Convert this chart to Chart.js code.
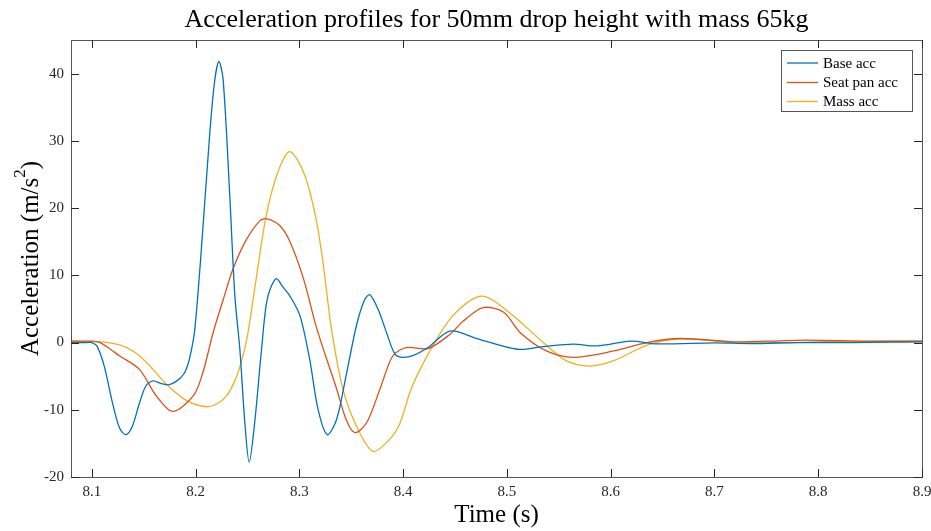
<!DOCTYPE html>
<html>
<head>
<meta charset="utf-8">
<script src="https://cdn.jsdelivr.net/npm/chart.js@4/dist/chart.umd.min.js"></script>
<style>
  html, body { margin: 0; padding: 0; background: #fff; }
  #wrap { width: 931px; height: 531px; }
</style>
</head>
<body>
<div id="wrap"><canvas id="c" width="931" height="531"></canvas></div>
<script>
const titleText = "Acceleration profiles for 50mm drop height with mass 65kg";
const xTitle = "Time (s)";
const seriesLabels = ["Base acc", "Seat pan acc", "Mass acc"];
const seriesColors = ["#0072BD", "#D95319", "#EDB120"];
const xTicks = [8.1, 8.2, 8.3, 8.4, 8.5, 8.6, 8.7, 8.8, 8.9];
const yTicks = [-20, -10, 0, 10, 20, 30, 40];

const baseT = [8.080, 8.095, 8.100, 8.105, 8.112, 8.120, 8.127, 8.133, 8.139, 8.146, 8.152, 8.159, 8.167, 8.174, 8.182, 8.189, 8.194, 8.1993, 8.207, 8.214, 8.2186, 8.2225, 8.2266, 8.233, 8.2379, 8.2427, 8.2475, 8.2517, 8.257, 8.2636, 8.269, 8.2774, 8.2845, 8.291, 8.3006, 8.310, 8.318, 8.327, 8.336, 8.345, 8.355, 8.363, 8.368, 8.376, 8.384, 8.392, 8.399, 8.410, 8.424, 8.445, 8.471, 8.510, 8.535, 8.564, 8.587, 8.619, 8.645, 8.700, 8.735, 8.780, 8.830, 8.870, 8.900];
const baseA = [0, 0, 0, -0.5, -3.5, -9.0, -12.8, -13.7, -12.5, -9.0, -6.5, -5.7, -6.1, -6.3, -5.7, -4.6, -2.5, 2.0, 16.8, 31.7, 39.1, 41.8, 39.1, 21.8, 6.9, -1.0, -11.9, -17.8, -11.9, -1.0, 6.4, 9.5, 8.2, 6.9, 4.0, -2.5, -9.9, -13.7, -11.4, -5.0, 2.5, 6.4, 7.1, 4.9, 1.5, -1.7, -2.2, -1.9, -0.75, 1.7, 0.6, -1.0, -0.6, -0.25, -0.5, 0.2, -0.2, -0.05, -0.15, 0, 0, 0.05, 0.1];

const seatT = [8.080, 8.100, 8.108, 8.118, 8.127, 8.146, 8.162, 8.178, 8.198, 8.207, 8.217, 8.2267, 8.236, 8.249, 8.262, 8.269, 8.281, 8.291, 8.304, 8.317, 8.336, 8.345, 8.3536, 8.365, 8.378, 8.390, 8.403, 8.424, 8.445, 8.458, 8.477, 8.497, 8.5127, 8.538, 8.564, 8.603, 8.635, 8.667, 8.718, 8.750, 8.789, 8.847, 8.900];
const seatA = [0.2, 0.2, 0, -1.0, -2.0, -4.0, -7.9, -10.25, -7.9, -4.5, 1.5, 6.4, 10.9, 15.3, 18.1, 18.4, 17.4, 15.0, 9.5, 2.0, -6.9, -11.4, -13.4, -11.9, -6.8, -2.0, -0.75, -0.9, 1.2, 3.2, 5.2, 4.5, 1.5, -1.25, -2.2, -1.25, 0, 0.6, 0.1, 0.2, 0.35, 0.2, 0.2];

const massT = [8.080, 8.110, 8.127, 8.140, 8.153, 8.172, 8.191, 8.211, 8.222, 8.230, 8.237, 8.243, 8.250, 8.257, 8.268, 8.2797, 8.291, 8.305, 8.316, 8.323, 8.331, 8.342, 8.355, 8.371, 8.387, 8.397, 8.408, 8.425, 8.448, 8.476, 8.506, 8.535, 8.557, 8.580, 8.603, 8.635, 8.664, 8.690, 8.718, 8.770, 8.815, 8.900];
const massA = [0.2, 0.1, -0.35, -1.3, -3.0, -6.2, -8.6, -9.55, -9.0, -7.9, -6.0, -3.5, 1.0, 8.0, 18.8, 25.5, 28.4, 25.0, 18.5, 11.7, 2.0, -6.9, -12.4, -16.2, -14.4, -12.0, -6.8, -1.5, 4.0, 6.9, 4.0, 0, -2.7, -3.5, -2.7, -0.4, 0.5, 0.4, 0, 0, 0.15, 0.2];

const xMin = 8.08, xMax = 8.9, yMin = -20, yMax = 45;
const FONT = "'Liberation Serif', 'Times New Roman', serif";
const AXC = "#262626";

function pts(t, a) { return t.map((v, i) => ({ x: v, y: a[i] })); }

const seriesT = [baseT, seatT, massT];
const seriesA = [baseA, seatA, massA];

const decor = {
  id: 'decor',
  afterDraw(chart) {
    const ctx = chart.ctx;
    const ca = chart.chartArea;
    const xs = chart.scales.x, ys = chart.scales.y;
    ctx.save();
    ctx.strokeStyle = "#555";
    ctx.lineWidth = 1;
    ctx.strokeRect(Math.round(ca.left) + 0.5, Math.round(ca.top) + 0.5, Math.round(ca.right - ca.left), Math.round(ca.bottom - ca.top));
    ctx.strokeStyle = AXC;
    ctx.beginPath();
    const tl = 8;
    xTicks.forEach(v => {
      const px = Math.round(xs.getPixelForValue(v)) + 0.5;
      ctx.moveTo(px, ca.bottom); ctx.lineTo(px, ca.bottom - tl);
      ctx.moveTo(px, ca.top); ctx.lineTo(px, ca.top + tl);
    });
    yTicks.forEach(v => {
      const py = Math.round(ys.getPixelForValue(v)) + 0.5;
      ctx.moveTo(ca.left, py); ctx.lineTo(ca.left + tl, py);
      ctx.moveTo(ca.right, py); ctx.lineTo(ca.right - tl, py);
    });
    ctx.stroke();
    ctx.fillStyle = "#000";
    ctx.textAlign = "center";
    ctx.textBaseline = "alphabetic";
    ctx.font = "26px " + FONT;
    const cx = (ca.left + ca.right) / 2;
    ctx.fillText(titleText, cx, 27);
    ctx.font = "25px " + FONT;
    ctx.fillText(xTitle, cx, 522);
    ctx.save();
    ctx.translate(38, (ca.top + ca.bottom) / 2);
    ctx.rotate(-Math.PI / 2);
    const main = "Acceleration (m/s";
    ctx.font = "25px " + FONT;
    const w1 = ctx.measureText(main).width;
    ctx.font = "17px " + FONT;
    const w2 = ctx.measureText("2").width;
    ctx.font = "25px " + FONT;
    const w3 = ctx.measureText(")").width;
    const total = w1 + w2 + w3;
    let x0 = -total / 2;
    ctx.textAlign = "left";
    ctx.fillText(main, x0, 0);
    ctx.font = "17px " + FONT;
    ctx.fillText("2", x0 + w1, -13);
    ctx.font = "25px " + FONT;
    ctx.fillText(")", x0 + w1 + w2, 0);
    ctx.restore();
    const lx = 781, ly = 50, lw = 131, lh = 61;
    ctx.fillStyle = "#fff";
    ctx.fillRect(lx, ly, lw, lh);
    ctx.strokeStyle = "#555";
    ctx.strokeRect(lx + 0.5, ly + 0.5, lw, lh);
    ctx.font = "15px " + FONT;
    ctx.textAlign = "left";
    ctx.textBaseline = "middle";
    const rows = [63, 82.5, 101.5];
    seriesLabels.forEach((lab, i) => {
      ctx.strokeStyle = seriesColors[i];
      ctx.lineWidth = 1.3;
      ctx.beginPath();
      ctx.moveTo(787, rows[i]); ctx.lineTo(818, rows[i]);
      ctx.stroke();
      ctx.fillStyle = "#000";
      ctx.fillText(lab, 823, rows[i] + 1);
    });
    ctx.restore();
  }
};

new Chart(document.getElementById('c'), {
  type: 'line',
  data: {
    datasets: seriesLabels.map((lab, i) => ({
      label: lab,
      data: pts(seriesT[i], seriesA[i]),
      borderColor: seriesColors[i],
      backgroundColor: seriesColors[i],
      borderWidth: 1.3,
      pointRadius: 0,
      fill: false,
      tension: 0.3
    }))
  },
  options: {
    responsive: false,
    animation: false,
    devicePixelRatio: 1,
    layout: { padding: { top: 40, right: 9, left: 0, bottom: 0 } },
    plugins: { legend: { display: false }, title: { display: false }, tooltip: { enabled: false } },
    scales: {
      x: {
        type: 'linear', min: xMin, max: xMax,
        afterBuildTicks: s => { s.ticks = xTicks.map(v => ({ value: v })); },
        afterFit: s => { s.height = 54; s.paddingRight = 0; s.paddingLeft = 0; },
        grid: { display: false, drawTicks: false },
        border: { display: false },
        ticks: { padding: 6, color: AXC, font: { family: FONT, size: 15 }, maxRotation: 0, autoSkip: false, callback: v => v.toFixed(1) }
      },
      y: {
        type: 'linear', min: yMin, max: yMax,
        afterBuildTicks: s => { s.ticks = yTicks.map(v => ({ value: v })); },
        afterFit: s => { s.width = 71; s.paddingTop = 0; s.paddingBottom = 0; },
        grid: { display: false, drawTicks: false },
        border: { display: false },
        ticks: { padding: 7, color: AXC, font: { family: FONT, size: 15 }, autoSkip: false, callback: v => String(v) }
      }
    }
  },
  plugins: [decor]
});
</script>
</body>
</html>
